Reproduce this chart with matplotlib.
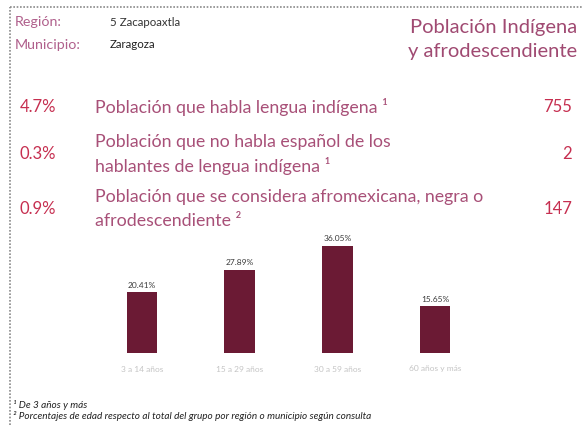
import matplotlib
matplotlib.use("Agg")
import matplotlib.pyplot as plt
from matplotlib.lines import Line2D

plt.rcParams['font.family'] = ['Lato', 'DejaVu Sans']

# header
region = "5 Zacapoaxtla"
municipio = "Zaragoza"
titulo = ["Población Indígena", "y afrodescendiente"]

# indicator rows
row_pct = ["4.7%", "0.3%", "0.9%"]
row_text = [
    ["Población que habla lengua indígena ¹"],
    ["Población que no habla español de los", "hablantes de lengua indígena ¹"],
    ["Población que se considera afromexicana, negra o", "afrodescendiente ²"],
]
row_value = ["755", "2", "147"]

# age groups bar chart
edades = ["3 a 14 años", "15 a 29 años", "30 a 59 años", "60 años y más"]
porcentajes = [20.41, 27.89, 36.05, 15.65]

notas = ["¹ De 3 años y más",
         "² Porcentajes de edad respecto al total del grupo por región o municipio según consulta"]

W, H = 582, 425
fig = plt.figure(figsize=(W / 100, H / 100), dpi=100)
fig.patch.set_facecolor("white")


def px(x, y):
    return x / W, 1 - y / H


def put(x, y, s, **kw):
    fig.text(*px(x, y), s, va="center", **kw)


# dotted border (top + left)
fig.add_artist(Line2D([10 / W, 1], [1 - 7 / H] * 2, transform=fig.transFigure,
                      color="#8a8a8a", lw=1.2, ls=(0, (1, 1))))
fig.add_artist(Line2D([10 / W] * 2, [0, 1 - 7 / H], transform=fig.transFigure,
                      color="#8a8a8a", lw=1.2, ls=(0, (1, 1))))

mauve = "#a85078"
crimson = "#c62f50"
put(15, 22, "Región:", fontsize=10.3, color="#b0608c")
put(15, 45, "Municipio:", fontsize=10.3, color="#b0608c")
put(110, 22, region, fontsize=8.3, color="#333333")
put(110, 45, municipio, fontsize=8.3, color="#222222")
put(577, 27, titulo[0], fontsize=14.5, color="#a04a72", ha="right")
put(577, 51, titulo[1], fontsize=14.5, color="#a04a72", ha="right")

row_y = [107, 154, 209]
for pct, lines, val, y in zip(row_pct, row_text, row_value, row_y):
    put(20, y, pct, fontsize=12, color=crimson)
    put(572, y, val, fontsize=12, color=crimson, ha="right")
    if len(lines) == 1:
        put(95, y, lines[0], fontsize=12.8, color=mauve)
    else:
        put(95, y - 12, lines[0], fontsize=12.8, color=mauve)
        put(95, y + 12, lines[1], fontsize=12.8, color=mauve)

# bar chart
ax = fig.add_axes([93 / W, 1 - 353 / H, 391 / W, 119 / H])
xs = range(len(edades))
bars = ax.bar(xs, porcentajes, width=0.31, color="#6b1a34")
for b, v in zip(bars, porcentajes):
    ax.text(b.get_x() + b.get_width() / 2, v + 1.2, f"{v:.2f}%",
            ha="center", va="bottom", fontsize=6, color="#3a3a3a")
ax.set_xlim(-0.5, 3.5)
ax.set_ylim(0, 40)
ax.set_xticks(list(xs))
ax.set_xticklabels(edades, fontsize=6, color="#c4c4c4")
ax.tick_params(axis="x", length=0, pad=9)
ax.set_yticks([])
for s in ax.spines.values():
    s.set_visible(False)

put(13, 405, notas[0], fontsize=7.2, style="italic", color="#222222")
put(13, 416, notas[1], fontsize=7.2, style="italic", color="#222222")

fig.savefig("out.png", dpi=100)
